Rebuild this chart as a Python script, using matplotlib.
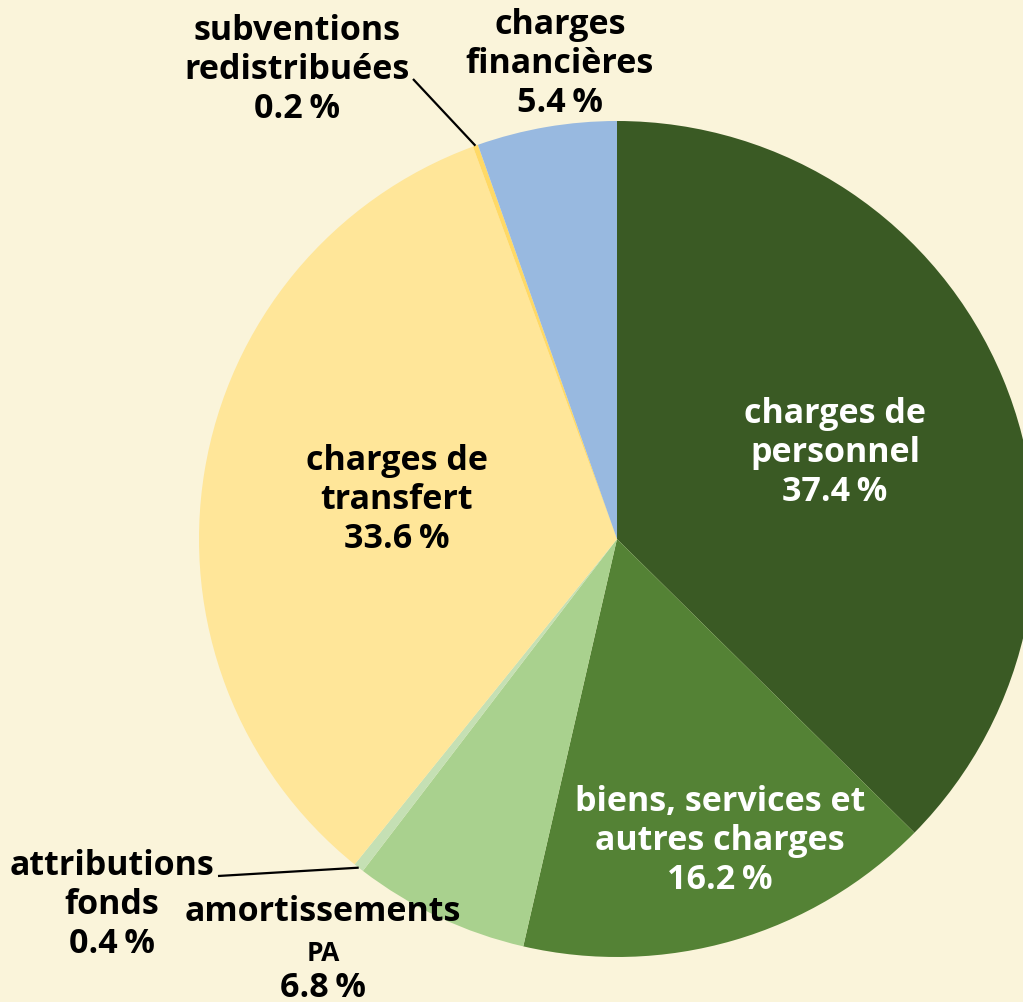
import matplotlib
matplotlib.use("Agg")
import matplotlib.pyplot as plt
import numpy as np

labels = ["charges de\npersonnel", "biens, services et\nautres charges", "amortissements", "attributions\nfonds",
          "charges de\ntransfert", "subventions\nredistribuées", "charges\nfinancières"]
values = [37.4, 16.2, 6.8, 0.4, 33.6, 0.2, 5.4]
pct_text = ["37.4", "16.2", "6.8", "0.4", "33.6", "0.2", "5.4"]
colors = ["#3a5a24", "#548235", "#a9d18e", "#c5e0b4", "#ffe699", "#ffd966", "#98b9e0"]

W, H = 1023, 1003
bg = "#faf4da"
fig = plt.figure(figsize=(W / 100, H / 100), dpi=100, facecolor=bg)
ax = fig.add_axes([0, 0, 1, 1])
ax.set_facecolor(bg)

cx, cy, R = 617, H - 540, 418
wedges, _ = ax.pie(values, colors=colors, startangle=90, counterclock=False,
                   center=(cx, cy), radius=R, frame=True,
                   wedgeprops=dict(linewidth=0))
ax.set_xlim(0, W)
ax.set_ylim(0, H)
ax.set_aspect("equal")
ax.axis("off")

fam = ["Open Sans", "DejaVu Sans"]
fs = 24.5
kw = dict(fontsize=fs, fontweight="bold", family=fam, ha="center", va="center",
          color="black", linespacing=1.2)

def put(i, x, y, color="black"):
    ax.text(x, H - y, labels[i] + "\n" + pct_text[i] + "\u2009%", **{**kw, "color": color})

put(0, 835, 453, "white")
put(1, 720, 841, "white")
put(4, 397, 500)
put(6, 560, 64)
put(5, 297, 70)
# attributions fonds: one text per line so the lines sit beside "amortissements"
for k, line in enumerate(labels[3].split("\n") + [pct_text[3] + "\u2009%"]):
    ax.text(112, H - (866 + 39 * k), line, **kw)
# amortissements PA
ax.text(323, H - 912, labels[2], **kw)
ax.text(323, H - 954, "PA", **{**kw, "fontsize": 19})
ax.text(323, H - 988, pct_text[2] + "\u2009%", **kw)

# leader lines from slice edges
def edge_point(i):
    w = wedges[i]
    th = np.deg2rad((w.theta1 + w.theta2) / 2)
    return cx + R * np.cos(th), cy + R * np.sin(th)

ex, ey = edge_point(5)
ax.plot([413, ex], [H - 80, ey], color="black", lw=1.6, solid_capstyle="butt")
ex, ey = edge_point(3)
ax.plot([218, ex], [H - 877, ey], color="black", lw=1.6, solid_capstyle="butt")

fig.savefig("out.png", dpi=100, facecolor=bg)
